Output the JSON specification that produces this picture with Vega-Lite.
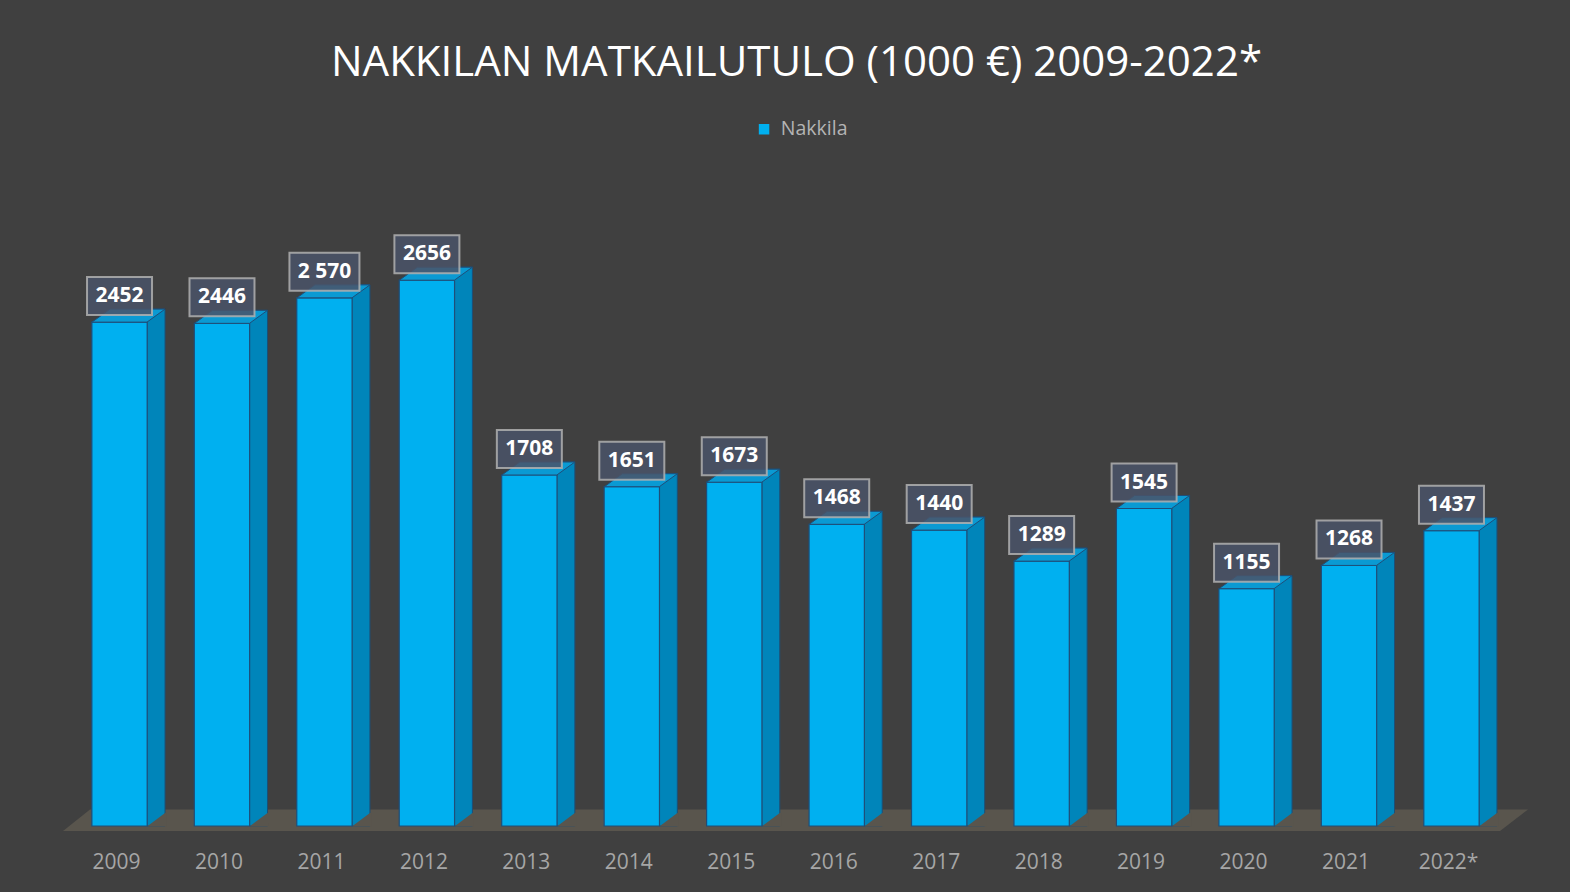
{
  "$schema": "https://vega.github.io/schema/vega-lite/v6.json",
  "width": 1434.4,
  "height": 616.5,
  "autosize": {"type": "none"},
  "padding": {"left": 68.3, "top": 209.5, "right": 67.3, "bottom": 66},
  "background": "#404040",
  "title": {
    "text": "NAKKILAN MATKAILUTULO (1000 €) 2009-2022*",
    "font": "Open Sans",
    "fontSize": 42,
    "fontWeight": "normal",
    "color": "#FFFFFF",
    "anchor": "middle",
    "frame": "group",
    "offset": 35,
    "dx": 11
  },
  "data": {
    "values": [
      {"year": "2009", "value": 2452, "label": "2452"},
      {"year": "2010", "value": 2446, "label": "2446"},
      {"year": "2011", "value": 2570, "label": "2 570"},
      {"year": "2012", "value": 2656, "label": "2656"},
      {"year": "2013", "value": 1708, "label": "1708"},
      {"year": "2014", "value": 1651, "label": "1651"},
      {"year": "2015", "value": 1673, "label": "1673"},
      {"year": "2016", "value": 1468, "label": "1468"},
      {"year": "2017", "value": 1440, "label": "1440"},
      {"year": "2018", "value": 1289, "label": "1289"},
      {"year": "2019", "value": 1545, "label": "1545"},
      {"year": "2020", "value": 1155, "label": "1155"},
      {"year": "2021", "value": 1268, "label": "1268"},
      {"year": "2022*", "value": 1437, "label": "1437"}
    ]
  },
  "encoding": {
    "x": {
      "field": "year",
      "type": "nominal",
      "sort": null,
      "scale": {"paddingInner": 0.46, "paddingOuter": 0.23},
      "axis": {
        "title": null,
        "labelAngle": 0,
        "labelFont": "Open Sans",
        "labelFontSize": 21,
        "labelColor": "#A6A6A6",
        "ticks": false,
        "domain": false,
        "grid": false,
        "labelPadding": 25,
        "labelOffset": -3
      }
    },
    "y": {
      "field": "value",
      "type": "quantitative",
      "scale": {"domain": [0, 3000], "nice": false},
      "axis": null
    }
  },
  "layer": [
    {
      "transform": [{"filter": "datum.year == '2009'"}],
      "mark": {
        "type": "point",
        "shape": "M-56.5,5L1380.5,5L1408.5,-16.5L-29.5,-16.5Z",
        "size": 4,
        "filled": true,
        "fill": "#59554D",
        "opacity": 1,
        "strokeWidth": 0
      },
      "encoding": {
        "x": {"datum": "2009"},
        "y": {"datum": 0}
      }
    },
    {
      "mark": {
        "type": "bar",
        "width": 18,
        "xOffset": 36.5,
        "yOffset": -13,
        "fill": "#0085BA",
        "stroke": "#1C4F77",
        "strokeWidth": 1
      },
      "encoding": {
        "y2": {"datum": 0}
      }
    },
    {
      "mark": {
        "type": "point",
        "shape": "M27.5,0.5L45.5,-13L47,-13L47,0.5Z",
        "size": 4,
        "filled": true,
        "fill": "#59554D",
        "opacity": 1,
        "strokeWidth": 0
      },
      "encoding": {
        "y": {"datum": 0}
      }
    },
    {
      "mark": {
        "type": "bar",
        "stroke": "#1F4E79",
        "strokeWidth": 1.2
      },
      "encoding": {
        "y2": {"datum": 0},
        "color": {
          "datum": "Nakkila",
          "scale": {"range": ["#00B0F0"]},
          "legend": {
            "orient": "none",
            "legendX": 686,
            "legendY": -90,
            "title": null,
            "padding": 0,
            "symbolType": "square",
            "symbolSize": 110,
            "symbolStrokeWidth": 0,
            "labelFont": "Open Sans",
            "labelFontSize": 19.5,
            "labelColor": "#B4B4B4",
            "labelOffset": 7
          }
        }
      }
    },
    {
      "mark": {
        "type": "point",
        "shape": "M-27.5,0L27.5,0L45.5,-13L-9.5,-13Z",
        "size": 4,
        "filled": true,
        "fill": "#0A9AD3",
        "opacity": 1,
        "stroke": "#1F4E79",
        "strokeWidth": 1
      }
    },
    {
      "mark": {
        "type": "point",
        "size": 4,
        "filled": true,
        "fill": "#4A5468",
        "fillOpacity": 0.85,
        "opacity": 1,
        "stroke": "#B0B0B0",
        "strokeOpacity": 0.85,
        "strokeWidth": 2
      },
      "encoding": {
        "shape": {
          "condition": {"test": "datum.label == '2 570'", "value": "M-35,-45L35,-45L35,-7L-35,-7Z"},
          "value": "M-32.5,-45L32.5,-45L32.5,-7L-32.5,-7Z"
        }
      }
    },
    {
      "mark": {
        "type": "text",
        "font": "Open Sans",
        "fontSize": 21,
        "fontWeight": "bold",
        "color": "#FFFFFF",
        "baseline": "middle",
        "align": "center",
        "yOffset": -26
      },
      "encoding": {
        "text": {"field": "label"}
      }
    }
  ],
  "config": {
    "view": {"stroke": null}
  }
}
